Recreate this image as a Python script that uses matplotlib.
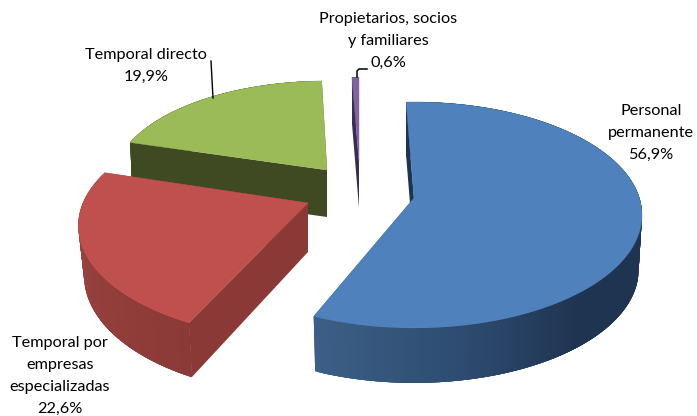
import numpy as np
import matplotlib
matplotlib.use("Agg")
import matplotlib.pyplot as plt
from matplotlib.colors import to_rgb
from matplotlib.patches import Polygon

categories = ["Personal\npermanente", "Temporal por\nempresas\nespecializadas",
              "Temporal directo", "Propietarios, socios\ny familiares"]
values = [56.9, 22.6, 19.9, 0.6]

# layout of each exploded slice, in figure pixels
apex = [(414, 198), (308, 203), (327, 170), (359, 161)]
size_x = [225.4, 225, 211.5, 205]
size_y = [110.4, 109, 98, 92]
persp = [0.15, 0.2, 0.1, 0.1]
turn = [-2.3, 0.9, 0.6, 0]
depth = [55, 49, 47, 47]
shrink = [0.985, 0.975, 0.99, 0.99]
stretch = [1, 1.045, 1, 1]

top_colors = ["#4f81bd", "#c0504d", "#9bbb59", "#8064a2"]
face_colors = ["#1e344f", "#8a3936", "#404a22", "#3a2c55"]
# rim shading: (angle, colour) stops
rim_stops = [
    [(90, "#1f3450"), (140, "#1f3450"), (170, "#2e4c71"), (205, "#3e6189")],
    [(205, "#8b3a37"), (240, "#953f3c"), (290, "#a84a47")],
    [(280, "#404a22"), (360, "#404a22")],
    [(350, "#3a2c55"), (360, "#3a2c55")],
]

label_pos = [(651, 133), (60, 376), (146, 66), (388, 41)]


def rim_point(i, t, lower=False):
    r = np.radians(t)
    w = 1 + persp[i] * np.cos(r)
    x = size_x[i] * np.sin(r) / w
    y = -size_y[i] * np.cos(r) / w
    if lower:
        return apex[i][0] + x * shrink[i], apex[i][1] + y * stretch[i] + depth[i]
    return apex[i][0] + x, apex[i][1] + y


def rim_color(i, t):
    angles = [s[0] for s in rim_stops[i]]
    cols = np.array([to_rgb(s[1]) for s in rim_stops[i]])
    return [np.interp(t, angles, cols[:, c]) for c in range(3)]


def draw_slice(ax, i, t0, t1):
    ts = np.linspace(t0, t1, max(int(t1 - t0) * 2, 2) + 1)
    base = (apex[i][0], apex[i][1] + depth[i])
    # back cut face, then the rim; segments overlap the next one so no seams show
    pts = [apex[i], rim_point(i, t1), rim_point(i, t1, True), base]
    ax.add_patch(Polygon(pts, closed=True, fc=face_colors[i], ec="none"))
    for a, b in zip(ts[:-1][::-1], ts[1:][::-1]):
        a2 = max(a - 1.5, t0)
        pts = [rim_point(i, a2), rim_point(i, b), rim_point(i, b, True), rim_point(i, a2, True)]
        ax.add_patch(Polygon(pts, closed=True, fc=rim_color(i, (a + b) / 2), ec="none"))
    # cut face at the start of the sweep is in front for the red and green slices
    pts = [apex[i], rim_point(i, t0), rim_point(i, t0, True), base]
    ax.add_patch(Polygon(pts, closed=True, fc=face_colors[i], ec="none"))
    top = [apex[i]] + [rim_point(i, t) for t in ts]
    ax.add_patch(Polygon(top, closed=True, fc=top_colors[i], ec=top_colors[i], lw=0.3))


fig = plt.figure(figsize=(6.97, 4.16), dpi=100)
ax = fig.add_axes([0, 0, 1, 1])
ax.set_xlim(0, 697)
ax.set_ylim(416, 0)
ax.axis("off")

total = sum(values)
edges = np.cumsum([0] + values) / total * 360

# back to front
for i in [2, 3, 1, 0]:
    draw_slice(ax, i, edges[i] + turn[i], edges[i + 1] + turn[i])

# leader lines
ax.plot([211, 213], [61, 98], color="black", lw=1)
ax.plot([357, 357, 359, 367], [77, 71, 69, 69], color="black", lw=1.1)

for name, v, pos in zip(categories, values, label_pos):
    txt = name + "\n" + f"{v:.1f}%".replace(".", ",")
    ax.text(pos[0], pos[1], txt, ha="center", va="center", family="Lato",
            fontsize=11.7, linespacing=1.71, color="black")

fig.savefig("out.png", dpi=100)
